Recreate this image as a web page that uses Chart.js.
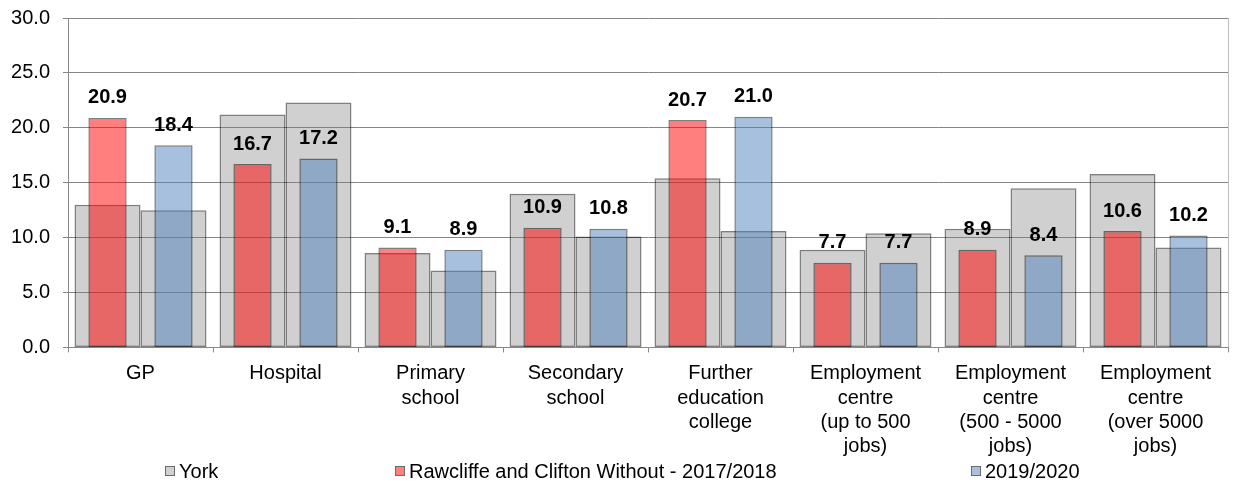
<!DOCTYPE html>
<html lang="en">
<head>
    <meta charset="UTF-8">
    <title>Travel time to services</title>
    <script src="https://cdn.jsdelivr.net/npm/chart.js@4/dist/chart.umd.min.js"></script>
    <style>
        html, body { margin: 0; padding: 0; background: #fff; }
        .chart-box { width: 1234px; height: 484px; }
    </style>
</head>
<body>
  <div class="chart-box">
    <canvas id="travelChart" width="1234" height="484"></canvas>
  </div>

  <script>
    // categories (multi-line labels as in the original)
    var categories = [
        ["GP"],
        ["Hospital"],
        ["Primary", "school"],
        ["Secondary", "school"],
        ["Further", "education", "college"],
        ["Employment", "centre", "(up to 500", "jobs)"],
        ["Employment", "centre", "(500 - 5000", "jobs)"],
        ["Employment", "centre", "(over 5000", "jobs)"]
    ];

    // York average, one bar behind each period
    var york1718 = [13.0, 21.2, 8.6, 14.0, 15.4, 8.9, 10.8, 15.8];
    var york1920 = [12.5, 22.3, 7.0, 10.1, 10.6, 10.4, 14.5, 9.1];

    // Rawcliffe and Clifton Without
    var ward1718 = [20.9, 16.7, 9.1, 10.9, 20.7, 7.7, 8.9, 10.6];
    var ward1920 = [18.4, 17.2, 8.9, 10.8, 21.0, 7.7, 8.4, 10.2];

    var seriesNames = ["York", "Rawcliffe and Clifton Without - 2017/2018", "2019/2020"];
    var yTicks = [0, 5, 10, 15, 20, 25, 30];

    var FONT = "'Liberation Sans', Arial, sans-serif";
    var greyFill = "rgba(128,128,128,0.37)";
    var redFill = "rgba(255,0,0,0.5)";
    var blueFill = "rgba(79,129,189,0.5)";
    var edge = "rgba(0,0,0,0.5)";

    // value labels above the front bars + right plot border
    var labelsPlugin = {
        id: "valueLabels",
        afterDatasetsDraw: function (chart) {
            var ctx = chart.ctx;
            var area = chart.chartArea;
            ctx.save();
            ctx.strokeStyle = "#bdbdbd";
            ctx.lineWidth = 1;
            ctx.beginPath();
            ctx.moveTo(Math.round(area.right) + 0.5, area.top);
            ctx.lineTo(Math.round(area.right) + 0.5, area.bottom);
            ctx.stroke();

            ctx.fillStyle = "#000";
            ctx.font = "bold 20px " + FONT;
            ctx.textAlign = "center";
            ctx.textBaseline = "middle";
            [2, 3].forEach(function (di) {
                var meta = chart.getDatasetMeta(di);
                var values = chart.data.datasets[di].data;
                meta.data.forEach(function (bar, i) {
                    ctx.fillText(values[i].toFixed(1), bar.x, bar.y - 20);
                });
            });
            ctx.restore();
        }
    };

    // legend spread along the bottom like the spreadsheet one
    var legendPlugin = {
        id: "bottomLegend",
        afterDraw: function (chart) {
            var ctx = chart.ctx;
            var xs = [165, 395, 971];
            var fills = ["rgb(208,208,208)", "rgb(255,128,128)", "rgb(167,192,222)"];
            var y = 471;
            ctx.save();
            ctx.font = "20px " + FONT;
            ctx.textBaseline = "middle";
            ctx.textAlign = "left";
            for (var i = 0; i < seriesNames.length; i++) {
                ctx.fillStyle = fills[i];
                ctx.fillRect(xs[i], y - 5, 10, 10);
                ctx.strokeStyle = "#6b6b6b";
                ctx.lineWidth = 1;
                ctx.strokeRect(xs[i] + 0.5, y - 4.5, 9, 9);
                ctx.fillStyle = "#000";
                ctx.fillText(seriesNames[i], xs[i] + 14, y + 1);
            }
            ctx.restore();
        }
    };

    // grey York bar and the ward bar of the same period share one slot (stack name),
    // the value axis is not stacked so they overlap instead of adding up
    function barSet(label, data, stack, fill, pct, order) {
        return {
            label: label, data: data, stack: stack, order: order,
            backgroundColor: fill, borderColor: edge, borderWidth: 1.5, borderSkipped: false,
            categoryPercentage: 0.91, barPercentage: pct
        };
    }

    var ctx = document.getElementById("travelChart").getContext("2d");
    var travelChart = new Chart(ctx, {
        type: "bar",
        data: {
            labels: categories,
            datasets: [
                barSet(seriesNames[0], york1718, "p1", greyFill, 1.0, 1),
                barSet(seriesNames[0], york1920, "p2", greyFill, 1.0, 1),
                barSet(seriesNames[1], ward1718, "p1", redFill, 0.58, 0),
                barSet(seriesNames[2], ward1920, "p2", blueFill, 0.58, 0)
            ]
        },
        options: {
            responsive: false,
            maintainAspectRatio: false,
            animation: false,
            layout: { padding: { left: 0, right: 6, top: 0, bottom: 16 } },
            plugins: {
                legend: { display: false },
                tooltip: { enabled: false }
            },
            scales: {
                x: {
                    grid: { offset: true, drawOnChartArea: false, drawTicks: true, tickLength: 5, color: "#888" },
                    border: { color: "#888" },
                    ticks: {
                        color: "#000",
                        font: { family: FONT, size: 20, lineHeight: 1.22 },
                        padding: 9,
                        maxRotation: 0,
                        autoSkip: false
                    }
                },
                y: {
                    stacked: false,
                    min: 0,
                    max: 30,
                    afterBuildTicks: function (axis) {
                        axis.ticks = yTicks.map(function (v) { return { value: v }; });
                    },
                    afterFit: function (axis) {
                        axis.width = 68;
                        axis.paddingTop = 18;
                        axis.paddingBottom = 0;
                    },
                    grid: { color: "#868686", tickLength: 5 },
                    border: { color: "#888" },
                    ticks: {
                        color: "#000",
                        font: { family: FONT, size: 20 },
                        padding: 13,
                        callback: function (v) { return Number(v).toFixed(1); }
                    }
                }
            }
        },
        plugins: [labelsPlugin, legendPlugin]
    });
  </script>
</body>
</html>
